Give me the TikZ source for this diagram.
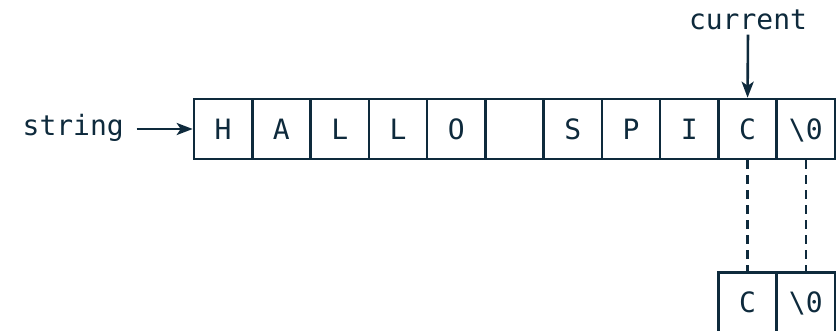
\documentclass[tikz,border=0pt]{standalone}
\usepackage{fontspec}
\setmonofont{DejaVu Sans Mono}
\usetikzlibrary{arrows.meta}
\definecolor{ink}{HTML}{0E2A3C}
\tikzset{
  cell/.style={draw=ink, line width=2.6pt, minimum width=58.27pt, minimum height=60pt, inner sep=0pt,
    text height=20.4pt, text depth=0pt, font=\fontsize{28pt}{32pt}\selectfont\ttfamily, text=ink},
  lbl/.style={font=\fontsize{28pt}{32pt}\selectfont\ttfamily, text=ink, inner sep=0pt},
  arr/.style={draw=ink, line width=2.6pt, -{Stealth[length=16pt,width=12pt,inset=4pt]}},
  dsh/.style={draw=ink, line width=2.6pt, dash pattern=on 9pt off 6pt}
}
\begin{document}
\begin{tikzpicture}[x=1pt,y=-1pt]
\useasboundingbox (0,0) rectangle (840,331);
\clip (0,0) rectangle (840,331);
\foreach \t [count=\i from 0] in {H,A,L,L,O,{},S,P,I,C,\textbackslash0}{
  \node[cell] (c\i) at ({194+58.27*(\i+0.5)},129) {\t};
}
\node[cell] (d9) at ({194+58.27*9.5},302.7) {C};
\node[cell] (d10) at ({194+58.27*10.5},302.7) {\textbackslash0};
\node[lbl, anchor=base east] (str) at (124,136) {string};
\node[lbl, anchor=base] (cur) at (748,30) {current};
\coordinate (s0) at (136.5,129);
\draw[arr] (s0) -- (c0.west);
\draw[arr, shorten <=4pt] (cur.south) -- (c9.north);
\draw[dsh] (c9.south) -- (d9.north);
\draw[dsh] (c10.south) -- (d10.north);
\end{tikzpicture}
\end{document}
